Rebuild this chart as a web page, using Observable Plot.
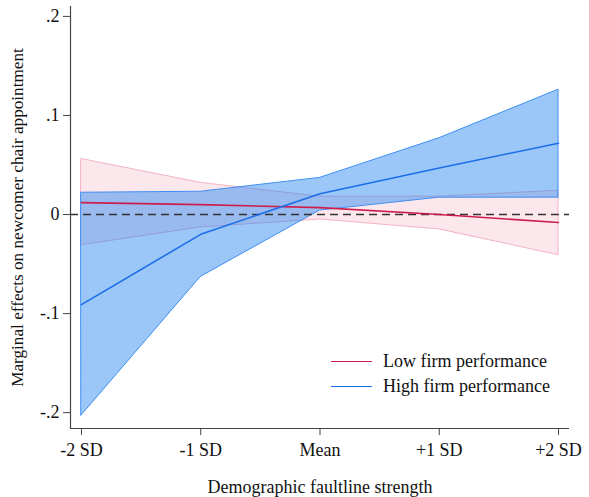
<!DOCTYPE html>
<html>
<head>
<meta charset="utf-8">
<script src="https://cdn.jsdelivr.net/npm/d3@7"></script>
<script src="https://cdn.jsdelivr.net/npm/@observablehq/plot@0.6"></script>
<style>
  html, body { margin: 0; padding: 0; background: #fff; }
  #wrap { position: relative; width: 589px; height: 497px; font-family: "Liberation Serif", "DejaVu Serif", serif; }
  #wrap svg text { font-size: 18px; }
  #wrap svg g[aria-label="y-axis label"] text { font-size: 17.2px; }
  #legend { position: absolute; left: 331px; top: 349px; font-size: 18px; color: #111; line-height: 25px; }
  #legend .row { display: flex; align-items: center; }
  #legend .sw { width: 41px; height: 0; border-top: 1.6px solid; margin-right: 11px; }
</style>
</head>
<body>
<div id="wrap"></div>
<script>
const xValues = [-2, -1, 0, 1, 2];
const xLabels = ["-2 SD", "-1 SD", "Mean", "+1 SD", "+2 SD"];
const yTicks = [-0.2, -0.1, 0, 0.1, 0.2];
const yTickLabels = ["-.2", "-.1", "0", ".1", ".2"];

const lowEst   = [0.012, 0.010, 0.007, 0.000, -0.008];
const lowUpper = [0.056, 0.032, 0.018, 0.018, 0.024];
const lowLower = [-0.031, -0.013, -0.005, -0.015, -0.041];

const highEst   = [-0.091, -0.020, 0.021, 0.047, 0.072];
const highUpper = [0.022, 0.023, 0.037, 0.077, 0.126];
const highLower = [-0.203, -0.063, 0.004, 0.017, 0.017];

const seriesNames = ["Low firm performance", "High firm performance"];

const low = xValues.map((x, i) => ({x, est: lowEst[i], lo: lowLower[i], hi: lowUpper[i]}));
const high = xValues.map((x, i) => ({x, est: highEst[i], lo: highLower[i], hi: highUpper[i]}));

const xDomain = [-2.092, 2.092];
const yDomain = [-0.216, 0.21];
const yFmt = d => yTickLabels[yTicks.findIndex(t => Math.abs(t - d) < 1e-9)];
const xFmt = d => xLabels[xValues.indexOf(d)];

const chart = Plot.plot({
  width: 589,
  height: 497,
  marginLeft: 70,
  marginRight: 20,
  marginTop: 6,
  marginBottom: 69,
  style: { fontFamily: "Liberation Serif, serif", fontSize: "18px", color: "#111", background: "#fff" },
  x: { domain: xDomain },
  y: { domain: yDomain },
  marks: [
    Plot.areaY(low, {x: "x", y1: "lo", y2: "hi", fill: "#e8557f", fillOpacity: 0.14, stroke: "#f2b3c5", strokeWidth: 1}),
    Plot.areaY(high, {x: "x", y1: "lo", y2: "hi", fill: "#1e82f0", fillOpacity: 0.45, stroke: "#3f8ff2", strokeWidth: 1}),
    Plot.ruleY([0], {stroke: "#333", strokeWidth: 1.5, strokeDasharray: "8,5"}),
    Plot.lineY(low, {x: "x", y: "est", stroke: "#cc1e4e", strokeWidth: 1.6}),
    Plot.lineY(high, {x: "x", y: "est", stroke: "#1c6ee8", strokeWidth: 1.6}),
    Plot.ruleX([xDomain[0]], {stroke: "#444", strokeWidth: 1.2}),
    Plot.ruleY([yDomain[0]], {stroke: "#444", strokeWidth: 1.2}),
    Plot.axisY({ticks: yTicks, tickSize: 7, tickPadding: 4, stroke: "#444", fontSize: 18,
      tickFormat: yFmt,
      label: "Marginal effects on newcomer chair appointment", labelAnchor: "center", labelArrow: "none", labelOffset: 60}),
    Plot.axisX({ticks: xValues, tickSize: 7, tickPadding: 8, stroke: "#444", fontSize: 18,
      tickFormat: xFmt,
      label: "Demographic faultline strength", labelAnchor: "center", labelArrow: "none", labelOffset: 64})
  ]
});

const wrap = document.getElementById("wrap");
wrap.appendChild(chart);

const legend = document.createElement("div");
legend.id = "legend";
const colors = ["#cc1e4e", "#1c6ee8"];
seriesNames.forEach((name, i) => {
  const row = document.createElement("div");
  row.className = "row";
  const sw = document.createElement("span");
  sw.className = "sw";
  sw.style.borderTopColor = colors[i];
  const t = document.createElement("span");
  t.textContent = name;
  row.appendChild(sw);
  row.appendChild(t);
  legend.appendChild(row);
});
wrap.appendChild(legend);
</script>
</body>
</html>
